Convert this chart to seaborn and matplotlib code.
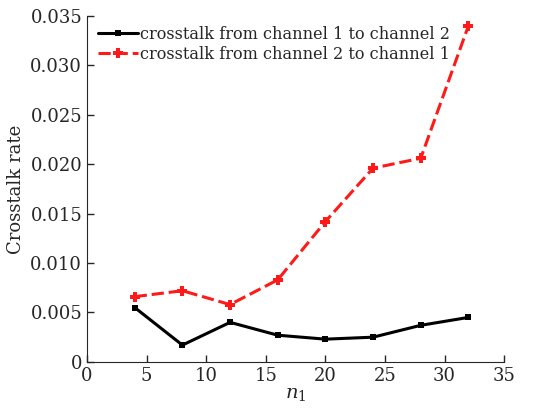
import matplotlib
matplotlib.use("Agg")
import matplotlib.pyplot as plt
import seaborn as sns
import pandas as pd

n1 = [4, 8, 12, 16, 20, 24, 28, 32]
ch1_to_ch2 = [0.0055, 0.0017, 0.0040, 0.0027, 0.0023, 0.0025, 0.0037, 0.0045]
ch2_to_ch1 = [0.0066, 0.0072, 0.0058, 0.0083, 0.0142, 0.0196, 0.0206, 0.0340]
labels = ["crosstalk from channel 1 to channel 2", "crosstalk from channel 2 to channel 1"]

sns.set_style("ticks")
plt.rcParams['font.family'] = ['DejaVu Serif']
plt.rcParams['mathtext.fontset'] = 'dejavuserif'

df = pd.DataFrame({"n1": n1 * 2,
                   "rate": ch1_to_ch2 + ch2_to_ch1,
                   "series": [labels[0]] * len(n1) + [labels[1]] * len(n1)})

fig = plt.figure(figsize=(5.51, 4.08), dpi=100)
ax = fig.add_axes([0.158, 0.113, 0.757, 0.848])

sns.lineplot(data=df, x="n1", y="rate", hue="series", style="series",
             palette=["black", "#ff1a1a"], dashes=[(None, None), (4, 1.6)],
             markers=["s", "P"], linewidth=2.2, ax=ax, markeredgewidth=0)
for line, ms in zip(ax.lines, [4, 6.5]):
    line.set_markersize(ms)

ax.set_xlim(0, 35)
ax.set_ylim(0, 0.035)
ax.set_xticks([0, 5, 10, 15, 20, 25, 30, 35])
ax.set_yticks([0, 0.005, 0.010, 0.015, 0.020, 0.025, 0.030, 0.035])
ax.set_yticklabels(["0", "0.005", "0.010", "0.015", "0.020", "0.025", "0.030", "0.035"])
ax.tick_params(direction="in", length=5, labelsize=13, width=1)
ax.set_xlabel("$n_1$", fontsize=14, labelpad=0)
ax.set_ylabel("Crosstalk rate", fontsize=13, labelpad=4)
for s in ["top", "right"]:
    ax.spines[s].set_visible(False)

leg = ax.legend(loc="upper left", frameon=False, fontsize=11.6, handlelength=2.5,
                handletextpad=0.1, borderaxespad=0.0, labelspacing=0.2,
                bbox_to_anchor=(0.01, 0.99))
for h, ms in zip(leg.legend_handles, [4, 6.5]):
    h.set_markersize(ms)

fig.savefig("out.png", dpi=100)
